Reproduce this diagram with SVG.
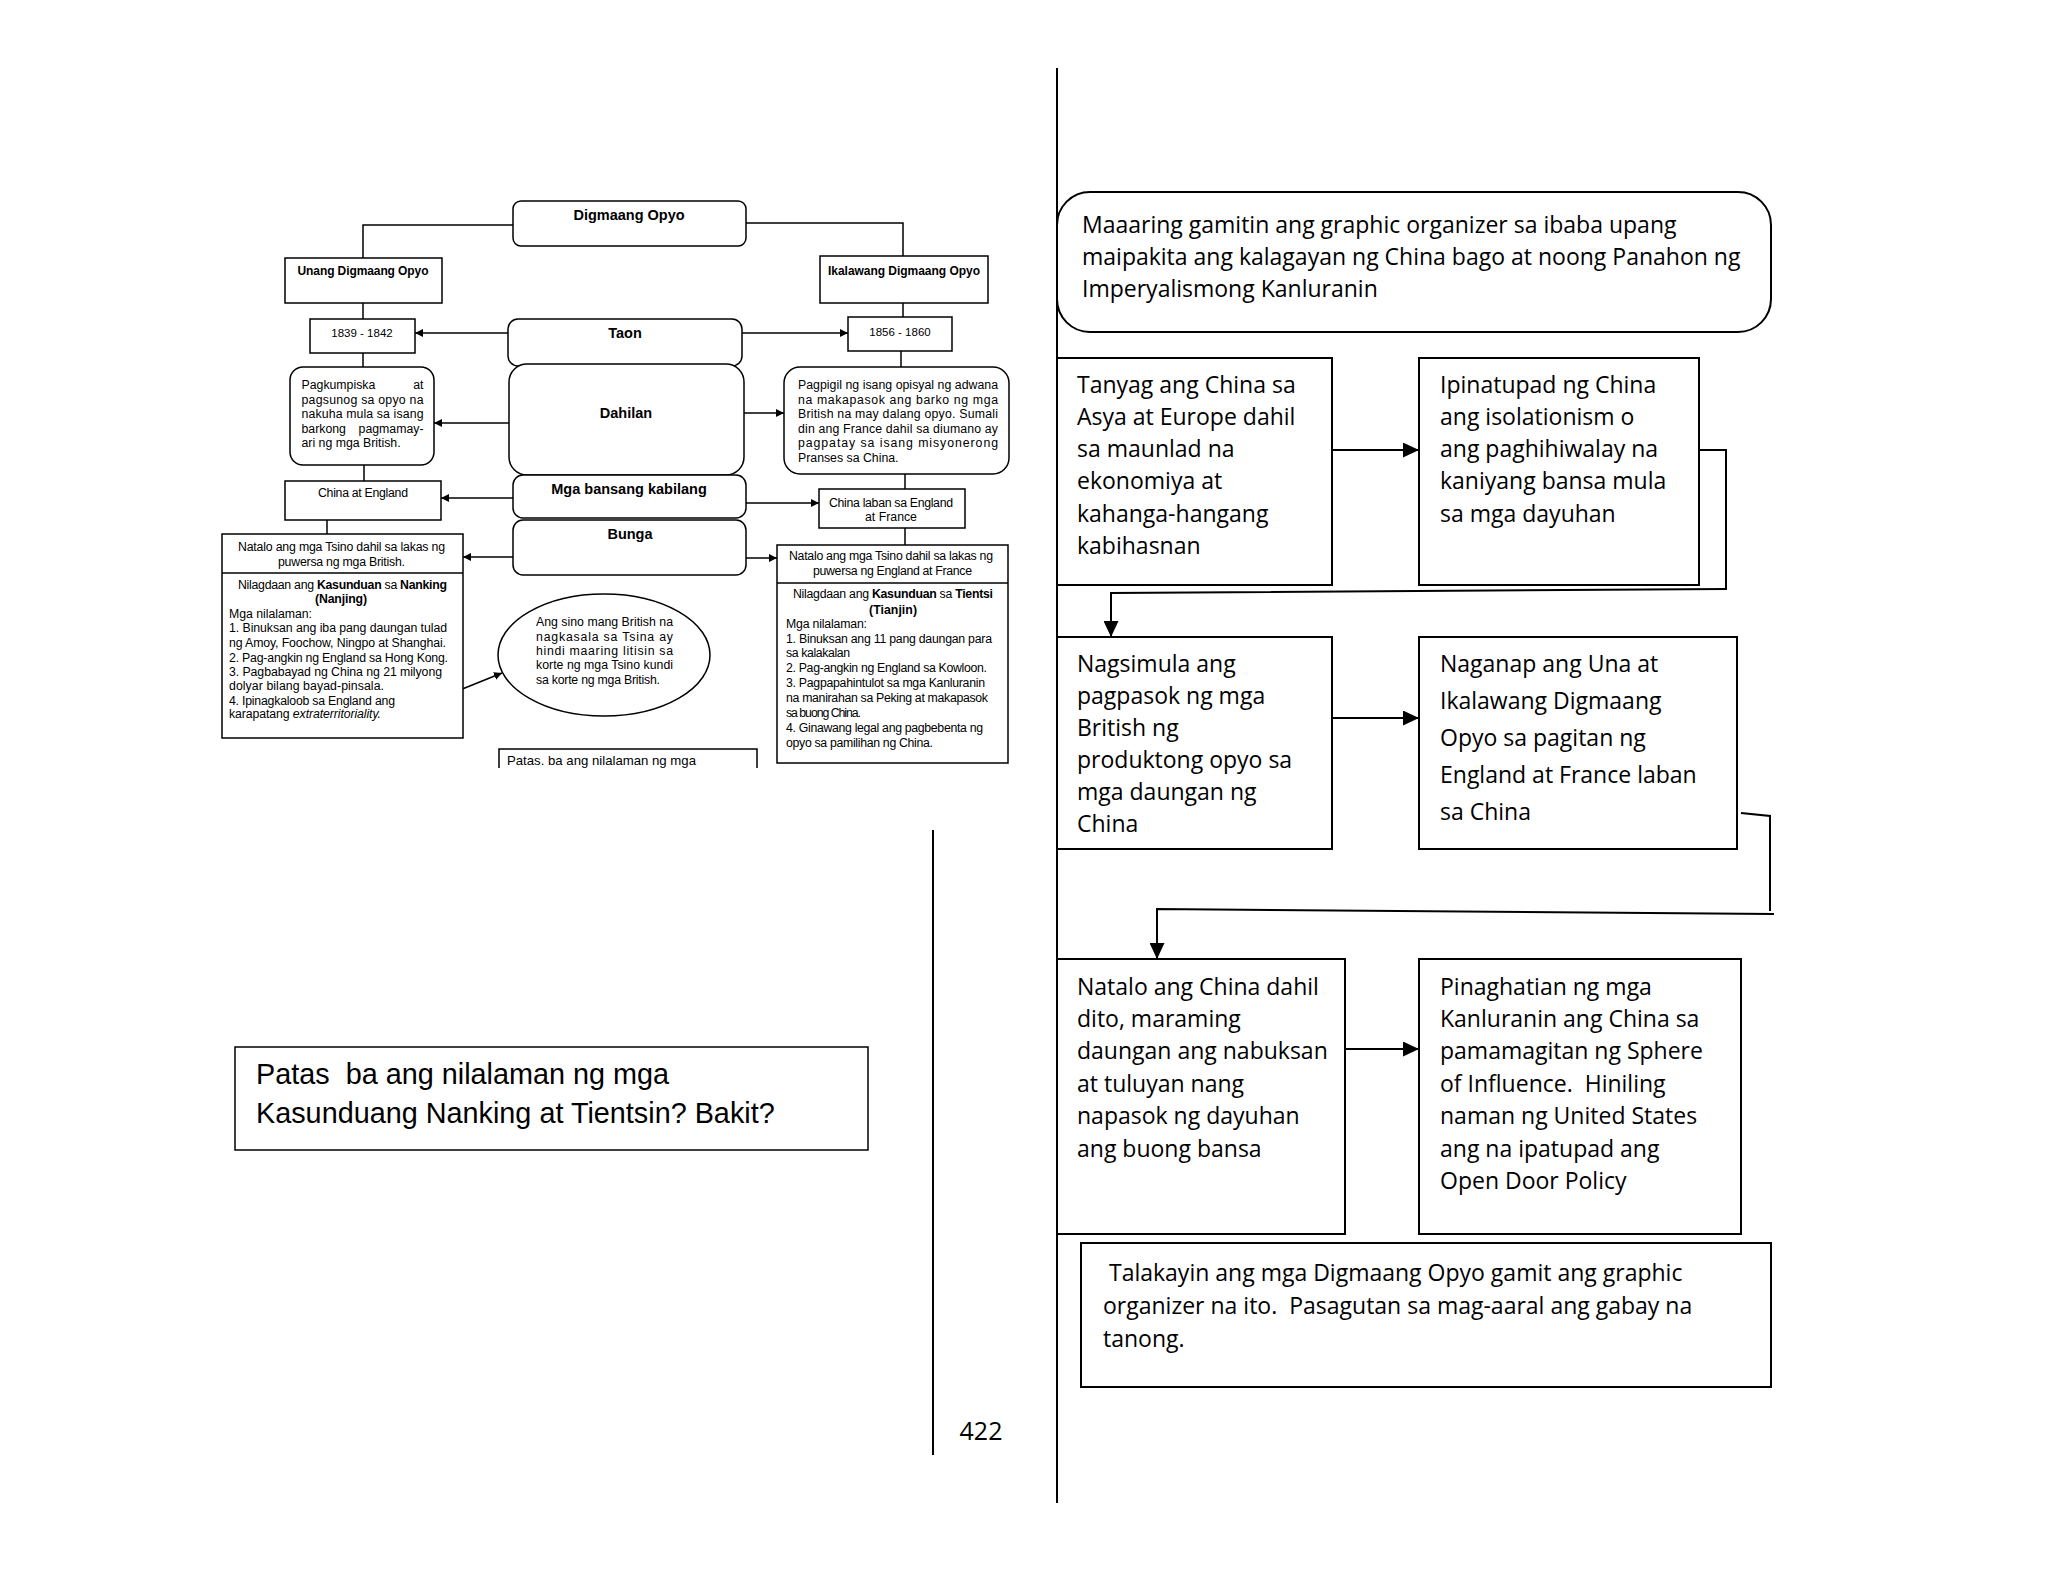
<svg xmlns="http://www.w3.org/2000/svg" width="2048" height="1572" viewBox="0 0 2048 1572">
<style>
.bx{fill:#fff;stroke:#000;stroke-width:1.5}
.rb{fill:#fff;stroke:#000;stroke-width:2}
.ln{fill:none;stroke:#000;stroke-width:1.5}
.lnr{fill:none;stroke:#000;stroke-width:2}
.s{font-family:"Liberation Sans",Arial,sans-serif;font-size:12.3px;fill:#000;white-space:pre}
.sb{font-weight:bold}
.lb{font-family:"Liberation Sans",Arial,sans-serif;font-size:14.5px;font-weight:bold;fill:#000}
.t{font-family:"Open Sans","Noto Sans",sans-serif;font-size:23px;fill:#000;white-space:pre}
.big{font-family:"Liberation Sans",Arial,sans-serif;font-size:28.8px;fill:#000;white-space:pre}
</style>
<defs>
<marker id="as" markerUnits="userSpaceOnUse" markerWidth="8" markerHeight="8" refX="8" refY="4" orient="auto"><path d="M0,0 L8,4 L0,8 z" fill="#000"/></marker>
<marker id="al" markerUnits="userSpaceOnUse" markerWidth="16" markerHeight="15" refX="16" refY="7.5" orient="auto"><path d="M0,0 L16,7.5 L0,15 z" fill="#000"/></marker>
<clipPath id="cp"><rect x="497" y="746" width="262" height="22"/></clipPath>
</defs>
<rect width="2048" height="1572" fill="#fff"/>

<g id="connectors">
<line class="lnr" x1="1057" y1="68" x2="1057" y2="1503"/>
<line class="lnr" x1="933" y1="830" x2="933" y2="1455"/>
<polyline class="ln" points="513,225 363,225 363,258"/>
<polyline class="ln" points="746,223 903,223 903,256"/>
<line class="ln" x1="363" y1="303" x2="363" y2="319"/>
<line class="ln" x1="903" y1="303" x2="903" y2="317"/>
<line class="ln" x1="363" y1="353" x2="363" y2="367"/>
<line class="ln" x1="901" y1="351" x2="901" y2="367"/>
<line class="ln" x1="364" y1="465" x2="364" y2="481"/>
<line class="ln" x1="905" y1="474" x2="905" y2="489"/>
<line class="ln" x1="327" y1="520" x2="327" y2="534"/>
<line class="ln" x1="905" y1="528" x2="905" y2="545"/>
<line class="ln" x1="508" y1="333" x2="415" y2="333" marker-end="url(#as)"/>
<line class="ln" x1="742" y1="333" x2="848" y2="333" marker-end="url(#as)"/>
<line class="ln" x1="509" y1="423" x2="434" y2="423" marker-end="url(#as)"/>
<line class="ln" x1="744" y1="413" x2="784" y2="413" marker-end="url(#as)"/>
<line class="ln" x1="513" y1="498" x2="441" y2="498" marker-end="url(#as)"/>
<line class="ln" x1="746" y1="503" x2="819" y2="503" marker-end="url(#as)"/>
<line class="ln" x1="513" y1="557" x2="463" y2="557" marker-end="url(#as)"/>
<line class="ln" x1="746" y1="558" x2="777" y2="558" marker-end="url(#as)"/>
<line class="ln" x1="383" y1="721" x2="502" y2="673" stroke-width="1.2" marker-end="url(#as)"/>
<line class="lnr" x1="1332" y1="450" x2="1419" y2="450" marker-end="url(#al)"/>
<polyline class="lnr" points="1699,450 1726,450 1726,590"/>
<polyline class="lnr" points="1726,589 1111,593 1111,637" marker-end="url(#al)"/>
<line class="lnr" x1="1332" y1="718" x2="1419" y2="718" marker-end="url(#al)"/>
<polyline class="lnr" points="1741,813 1770,816 1770,911"/>
<polyline class="lnr" points="1774,914 1157,909 1157,959" marker-end="url(#al)"/>
<line class="lnr" x1="1339" y1="1049" x2="1419" y2="1049" marker-end="url(#al)"/>
</g>

<g id="digmaang-opyo"><rect class="bx" x="513" y="201" width="233" height="45" rx="8"/><text class="lb" x="629" y="220" text-anchor="middle">Digmaang Opyo</text></g>
<g id="unang"><rect class="bx" x="285" y="258" width="157" height="45"/><text class="lb" x="363" y="275" text-anchor="middle" style="font-size:12px" textLength="131">Unang Digmaang Opyo</text></g>
<g id="ikalawang"><rect class="bx" x="820" y="256" width="168" height="47"/><text class="lb" x="904" y="275" text-anchor="middle" style="font-size:12px" textLength="152">Ikalawang Digmaang Opyo</text></g>
<g id="y1839"><rect class="bx" x="310" y="319" width="105" height="34"/><text class="s" x="362" y="337" text-anchor="middle" style="font-size:11.5px">1839 - 1842</text></g>
<g id="taon"><rect class="bx" x="508" y="319" width="234" height="47" rx="10"/><text class="lb" x="625" y="338" text-anchor="middle">Taon</text></g>
<g id="y1856"><rect class="bx" x="848" y="317" width="104" height="34"/><text class="s" x="900" y="336" text-anchor="middle" style="font-size:11.5px">1856 - 1860</text></g>

<g id="pagkumpiska"><rect class="bx" x="290" y="367" width="144" height="98" rx="13"/>
<text class="s" x="301.5" y="389">Pagkumpiska</text><text class="s" x="423.5" y="389" text-anchor="end">at</text>
<text class="s" x="301.5" y="404" textLength="122">pagsunog sa opyo na</text>
<text class="s" x="301.5" y="418" textLength="122">nakuha mula sa isang</text>
<text class="s" x="301.5" y="433">barkong</text><text class="s" x="423.5" y="433" text-anchor="end">pagmamay-</text>
<text class="s" x="301.5" y="447">ari ng mga British.</text></g>

<g id="dahilan"><rect class="bx" x="509" y="364" width="235" height="111" rx="18"/><text class="lb" x="626" y="418" text-anchor="middle">Dahilan</text></g>

<g id="pagpigil"><rect class="bx" x="784" y="367" width="225" height="107" rx="16"/>
<text class="s" x="798" y="389" textLength="200">Pagpigil ng isang opisyal ng adwana</text>
<text class="s" x="798" y="404" textLength="200">na makapasok ang barko ng mga</text>
<text class="s" x="798" y="418" textLength="200">British na may dalang opyo. Sumali</text>
<text class="s" x="798" y="433" textLength="200">din ang France dahil sa diumano ay</text>
<text class="s" x="798" y="447" textLength="200">pagpatay sa isang misyonerong</text>
<text class="s" x="798" y="462">Pranses sa China.</text></g>

<g id="china-england"><rect class="bx" x="285" y="481" width="156" height="39"/><text class="s" x="363" y="497" text-anchor="middle" textLength="90">China at England</text></g>
<g id="mga-bansang"><rect class="bx" x="513" y="475" width="233" height="43" rx="10"/><text class="lb" x="629" y="494" text-anchor="middle">Mga bansang kabilang</text></g>
<g id="china-laban"><rect class="bx" x="819" y="489" width="146" height="39"/><text class="s" x="891" y="507" text-anchor="middle" textLength="124">China laban sa England</text><text class="s" x="891" y="521" text-anchor="middle">at France</text></g>
<g id="bunga"><rect class="bx" x="513" y="520" width="233" height="55" rx="10"/><text class="lb" x="630" y="539" text-anchor="middle">Bunga</text></g>

<g id="bunga-una"><rect class="bx" x="222" y="534" width="241" height="204"/><line class="ln" x1="222" y1="573" x2="463" y2="573"/>
<text class="s" x="238" y="551" textLength="207">Natalo ang mga Tsino dahil sa lakas ng</text>
<text class="s" x="278" y="566" textLength="127">puwersa ng mga British.</text>
<text class="s" x="238" y="589" textLength="209">Nilagdaan ang <tspan class="sb">Kasunduan</tspan> sa <tspan class="sb">Nanking</tspan></text>
<text class="s sb" x="315" y="603" textLength="52">(Nanjing)</text>
<text class="s" x="229" y="618" textLength="83">Mga nilalaman:</text>
<text class="s" x="229" y="632" textLength="218">1. Binuksan ang iba pang daungan tulad</text>
<text class="s" x="229" y="647" textLength="217">ng Amoy, Foochow, Ningpo at Shanghai.</text>
<text class="s" x="229" y="662" textLength="219">2. Pag-angkin ng England sa Hong Kong.</text>
<text class="s" x="229" y="676" textLength="213">3. Pagbabayad ng China ng 21 milyong</text>
<text class="s" x="229" y="690" textLength="155">dolyar bilang bayad-pinsala.</text>
<text class="s" x="229" y="705" textLength="166">4. Ipinagkaloob sa England ang</text>
<text class="s" x="229" y="718" textLength="152">karapatang <tspan font-style="italic">extraterritoriality.</tspan></text></g>

<g id="bunga-ikalawa"><rect class="bx" x="777" y="545" width="231" height="218"/><line class="ln" x1="777" y1="583" x2="1008" y2="583"/>
<text class="s" x="789" y="560" textLength="204">Natalo ang mga Tsino dahil sa lakas ng</text>
<text class="s" x="813" y="575" textLength="159">puwersa ng England at France</text>
<text class="s" x="793" y="598" textLength="200">Nilagdaan ang <tspan class="sb">Kasunduan</tspan> sa <tspan class="sb">Tientsi</tspan></text>
<text class="s sb" x="869" y="614" textLength="48">(Tianjin)</text>
<text class="s" x="786" y="628" textLength="81">Mga nilalaman:</text>
<text class="s" x="786" y="643" textLength="206">1. Binuksan ang 11 pang daungan para</text>
<text class="s" x="786" y="657" textLength="64">sa kalakalan</text>
<text class="s" x="786" y="672" textLength="201">2. Pag-angkin ng England sa Kowloon.</text>
<text class="s" x="786" y="687" textLength="199">3. Pagpapahintulot sa mga Kanluranin</text>
<text class="s" x="786" y="702" textLength="202">na manirahan sa Peking at makapasok</text>
<text class="s" x="786" y="717" textLength="75">sa buong China.</text>
<text class="s" x="786" y="732" textLength="197">4. Ginawang legal ang pagbebenta ng</text>
<text class="s" x="786" y="747" textLength="147">opyo sa pamilihan ng China.</text></g>

<g id="extraterritoriality"><ellipse class="bx" cx="604" cy="655" rx="106" ry="61"/>
<text class="s" x="536" y="626" textLength="137">Ang sino mang British na</text>
<text class="s" x="536" y="641" textLength="137">nagkasala sa Tsina ay</text>
<text class="s" x="536" y="655" textLength="137">hindi maaring litisin sa</text>
<text class="s" x="536" y="669" textLength="137">korte ng mga Tsino kundi</text>
<text class="s" x="536" y="684" textLength="124">sa korte ng mga British.</text></g>

<g id="patas-cut"><polyline class="ln" points="499,768 499,749 757,749 757,768"/>
<g clip-path="url(#cp)"><text class="s" x="507" y="765" style="font-size:13.2px" textLength="189">Patas. ba ang nilalaman ng mga</text></g></g>

<g id="patas"><rect class="bx" x="235" y="1047" width="633" height="103" stroke-width="2"/>
<text class="big" x="256" y="1084">Patas  ba ang nilalaman ng mga</text>
<text class="big" x="256" y="1123">Kasunduang Nanking at Tientsin? Bakit?</text></g>

<text id="page-number" class="t" x="981" y="1440" text-anchor="middle" style="font-size:25px">422</text>

<g id="intro"><rect class="rb" x="1057" y="192" width="714" height="140" rx="33"/>
<text class="t" x="1082" y="233">Maaaring gamitin ang graphic organizer sa ibaba upang</text>
<text class="t" x="1082" y="265">maipakita ang kalagayan ng China bago at noong Panahon ng</text>
<text class="t" x="1082" y="297">Imperyalismong Kanluranin</text></g>

<g id="tanyag"><rect class="rb" x="1057" y="358" width="275" height="227"/>
<text class="t" x="1077" y="393">Tanyag ang China sa</text>
<text class="t" x="1077" y="425">Asya at Europe dahil</text>
<text class="t" x="1077" y="457">sa maunlad na</text>
<text class="t" x="1077" y="489">ekonomiya at</text>
<text class="t" x="1077" y="522">kahanga-hangang</text>
<text class="t" x="1077" y="554">kabihasnan</text></g>

<g id="ipinatupad"><rect class="rb" x="1419" y="358" width="280" height="227"/>
<text class="t" x="1440" y="393">Ipinatupad ng China</text>
<text class="t" x="1440" y="425">ang isolationism o</text>
<text class="t" x="1440" y="457">ang paghihiwalay na</text>
<text class="t" x="1440" y="489">kaniyang bansa mula</text>
<text class="t" x="1440" y="522">sa mga dayuhan</text></g>

<g id="nagsimula"><rect class="rb" x="1057" y="637" width="275" height="212"/>
<text class="t" x="1077" y="672">Nagsimula ang</text>
<text class="t" x="1077" y="704">pagpasok ng mga</text>
<text class="t" x="1077" y="736">British ng</text>
<text class="t" x="1077" y="768">produktong opyo sa</text>
<text class="t" x="1077" y="800">mga daungan ng</text>
<text class="t" x="1077" y="832">China</text></g>

<g id="naganap"><rect class="rb" x="1419" y="637" width="318" height="212"/>
<text class="t" x="1440" y="672">Naganap ang Una at</text>
<text class="t" x="1440" y="709">Ikalawang Digmaang</text>
<text class="t" x="1440" y="746">Opyo sa pagitan ng</text>
<text class="t" x="1440" y="783">England at France laban</text>
<text class="t" x="1440" y="820">sa China</text></g>

<g id="natalo"><rect class="rb" x="1057" y="959" width="288" height="275"/>
<text class="t" x="1077" y="995">Natalo ang China dahil</text>
<text class="t" x="1077" y="1027">dito, maraming</text>
<text class="t" x="1077" y="1059">daungan ang nabuksan</text>
<text class="t" x="1077" y="1092">at tuluyan nang</text>
<text class="t" x="1077" y="1124">napasok ng dayuhan</text>
<text class="t" x="1077" y="1157">ang buong bansa</text></g>

<g id="pinaghatian"><rect class="rb" x="1419" y="959" width="322" height="275"/>
<text class="t" x="1440" y="995">Pinaghatian ng mga</text>
<text class="t" x="1440" y="1027">Kanluranin ang China sa</text>
<text class="t" x="1440" y="1059">pamamagitan ng Sphere</text>
<text class="t" x="1440" y="1092">of Influence.  Hiniling</text>
<text class="t" x="1440" y="1124">naman ng United States</text>
<text class="t" x="1440" y="1157">ang na ipatupad ang</text>
<text class="t" x="1440" y="1189">Open Door Policy</text></g>

<g id="talakayin"><rect class="rb" x="1081" y="1243" width="690" height="144"/>
<text class="t" x="1103" y="1281"> Talakayin ang mga Digmaang Opyo gamit ang graphic</text>
<text class="t" x="1103" y="1314">organizer na ito.  Pasagutan sa mag-aaral ang gabay na</text>
<text class="t" x="1103" y="1347">tanong.</text></g>
</svg>
